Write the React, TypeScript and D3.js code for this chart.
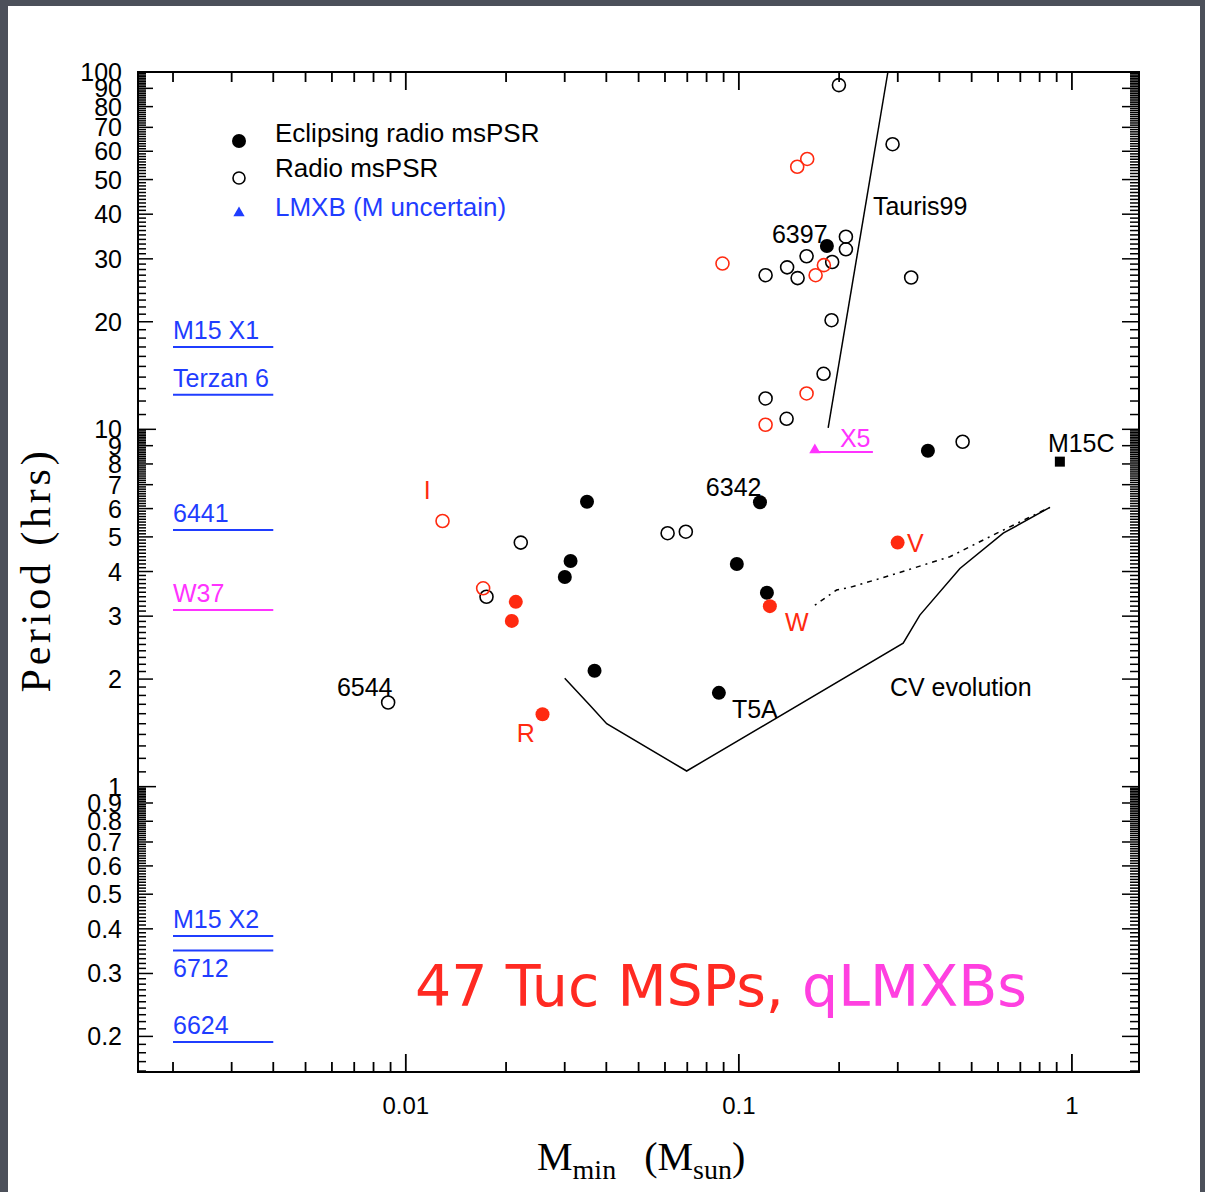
import { useEffect, useRef } from 'react'
import * as d3 from 'd3'

type Pt = [number, number]

// all points are [M_min (Msun), Period (hrs)]
const eclipsingBlack: Pt[] = [
  [0.1838, 32.6], [0.035, 6.27], [0.1157, 6.25], [0.03124, 4.28], [0.03002, 3.86],
  [0.0986, 4.2], [0.1214, 3.49], [0.03687, 2.11], [0.0871, 1.83], [0.3695, 8.71],
]
const eclipsingRed: Pt[] = [
  [0.02139, 3.29], [0.02081, 2.91], [0.02573, 1.595], [0.1239, 3.2], [0.2997, 4.82],
]
const radioBlack: Pt[] = [
  [0.1997, 91.9], [0.2894, 62.8], [0.2096, 34.6], [0.2096, 31.9], [0.1906, 29.4],
  [0.1597, 30.5], [0.1396, 28.4], [0.1501, 26.5], [0.1203, 27.0], [0.3291, 26.6],
  [0.1898, 20.2], [0.1796, 14.3], [0.1203, 12.2], [0.1391, 10.7], [0.4697, 9.23],
  [0.02214, 4.82], [0.0611, 5.12], [0.0693, 5.17], [0.01747, 3.4], [0.00885, 1.72],
]
const radioRed: Pt[] = [
  [0.1497, 54.3], [0.1604, 57.1], [0.0893, 29.1], [0.17, 27.0], [0.18, 28.8],
  [0.1597, 12.6], [0.1203, 10.3], [0.01289, 5.54], [0.01707, 3.59],
]
const m15c: Pt[] = [[0.92, 8.12]]
const x5: Pt[] = [[0.1691, 8.75]]
const x5Line: Pt[] = [[0.1691, 8.64], [0.2526, 8.64]]

const tauris99: Pt[] = [[0.2802, 100], [0.1854, 10.1]]
const cvEvolution: Pt[] = [
  [0.03, 2.01], [0.0357, 1.69], [0.0401, 1.5], [0.0697, 1.106], [0.3114, 2.52],
  [0.3495, 3.02], [0.461, 4.08], [0.622, 5.12], [0.859, 6.05],
]
const cvDotted: Pt[] = [
  [0.1691, 3.22], [0.1965, 3.55], [0.2154, 3.61], [0.2976, 3.95], [0.43, 4.4],
  [0.608, 5.17], [0.859, 6.05],
]

// globular-cluster LMXBs drawn as bars at the left (mass range 0.002-0.004)
const lmxbNames = ['M15 X1', 'Terzan 6', '6441', 'W37', 'M15 X2', '6712', '6624']
const lmxbPeriods = [17.0, 12.5, 5.23, 3.12, 0.382, 0.348, 0.193]
const lmxbBelow = [false, false, false, false, false, true, false]
const lmxbMass: [number, number] = [0.002, 0.004]

// text annotations placed in data coordinates
const annotations: { m: number; p: number; text: string; color: string }[] = [
  { m: 0.1257, p: 35.2, text: '6397', color: '#000' },
  { m: 0.2526, p: 42.2, text: 'Tauris99', color: '#000' },
  { m: 0.2011, p: 9.46, text: 'X5', color: '#ff33ff' },
  { m: 0.847, p: 9.16, text: 'M15C', color: '#000' },
  { m: 0.0796, p: 6.9, text: '6342', color: '#000' },
  { m: 0.01133, p: 6.76, text: 'I', color: '#ff2a10' },
  { m: 0.3196, p: 4.81, text: 'V', color: '#ff2a10' },
  { m: 0.1375, p: 2.89, text: 'W', color: '#ff2a10' },
  { m: 0.2841, p: 1.9, text: 'CV evolution', color: '#000' },
  { m: 0.0953, p: 1.65, text: 'T5A', color: '#000' },
  { m: 0.00621, p: 1.9, text: '6544', color: '#000' },
  { m: 0.02154, p: 1.41, text: 'R', color: '#ff2a10' },
]

const legendItems = ['Eclipsing radio msPSR', 'Radio msPSR', 'LMXB (M uncertain)']
const xTickLabels = [0.01, 0.1, 1]
const yTickLabels = [100, 90, 80, 70, 60, 50, 40, 30, 20, 10, 9, 8, 7, 6, 5, 4, 3, 2, 1,
  0.9, 0.8, 0.7, 0.6, 0.5, 0.4, 0.3, 0.2]

const W = 1205
const H = 1192
const SANS = "'Liberation Sans', Arial, Helvetica, sans-serif"
const SERIF = "'Liberation Serif', 'Times New Roman', serif"
const RED = '#ff2a10'
const BLUE = '#1f3dff'
const MAGENTA = '#ff33ff'

export default function App() {
  const svgRef = useRef<SVGSVGElement>(null)

  useEffect(() => {
    if (!svgRef.current) return
    const svg = d3.select(svgRef.current)
    svg.selectAll('*').remove()

    // slide background + white panel
    svg.append('rect').attr('width', W).attr('height', H).attr('fill', '#4c505a')
    svg.append('rect').attr('x', 8).attr('y', 6).attr('width', 1192).attr('height', H - 6).attr('fill', '#fff')

    const x = d3.scaleLog().domain([0.00157, 1.59]).range([138, 1139])
    const y = d3.scaleLog().domain([0.159, 100]).range([1072, 72])
    const [x0, x1] = x.range()
    const [y0, y1] = y.range()

    const g = svg.append('g')

    // x ticks (top and bottom), minor 2..9 per decade
    const xTicks: { v: number; major: boolean }[] = []
    ;[0.001, 0.01, 0.1, 1].forEach(base => {
      for (let j = 1; j <= 9; j++) {
        const v = j * base
        if (v >= x.domain()[0] && v <= x.domain()[1]) xTicks.push({ v, major: j === 1 })
      }
    })
    xTicks.forEach(t => {
      const px = x(t.v)
      const len = t.major ? 18 : 10
      g.append('line').attr('x1', px).attr('x2', px).attr('y1', y0).attr('y2', y0 - len)
        .attr('stroke', '#000').attr('stroke-width', 1.8)
      g.append('line').attr('x1', px).attr('x2', px).attr('y1', y1).attr('y2', y1 + len)
        .attr('stroke', '#000').attr('stroke-width', 1.8)
    })

    // y ticks: one every 1/10 of the decade base
    const yTicks: { v: number; kind: number }[] = []
    ;[0.1, 1, 10].forEach(base => {
      for (let j = 10; j <= 99; j++) {
        const v = (j * base) / 10
        if (v >= y.domain()[0] && v <= y.domain()[1]) {
          yTicks.push({ v, kind: j === 10 ? 2 : j % 10 === 0 ? 1 : 0 })
        }
      }
    })
    yTicks.push({ v: 100, kind: 2 })
    yTicks.forEach(t => {
      const py = y(t.v)
      const len = t.kind === 2 ? 18 : t.kind === 1 ? 15 : 8
      g.append('line').attr('x1', x0).attr('x2', x0 + len).attr('y1', py).attr('y2', py)
        .attr('stroke', '#000').attr('stroke-width', 1.5)
      g.append('line').attr('x1', x1).attr('x2', x1 - (t.kind === 0 ? 9 : 17)).attr('y1', py).attr('y2', py)
        .attr('stroke', '#000').attr('stroke-width', 1.5)
    })

    // frame
    g.append('rect').attr('x', x0).attr('y', y1).attr('width', x1 - x0).attr('height', y0 - y1)
      .attr('fill', 'none').attr('stroke', '#000').attr('stroke-width', 2)

    // tick labels
    g.selectAll('.xl').data(xTickLabels).join('text')
      .attr('x', d => x(d)).attr('y', 1105).attr('dy', '0.36em')
      .attr('text-anchor', 'middle').attr('font-family', SANS).attr('font-size', 24)
      .text(d => String(d))
    g.selectAll('.yl').data(yTickLabels).join('text')
      .attr('x', 122).attr('y', d => y(d)).attr('dy', '0.36em')
      .attr('text-anchor', 'end').attr('font-family', SANS).attr('font-size', 25)
      .text(d => (d < 1 ? d.toFixed(1) : String(d)))

    // axis titles
    g.append('text')
      .attr('transform', 'translate(50,570) rotate(-90)')
      .attr('text-anchor', 'middle').attr('font-family', SERIF).attr('font-size', 42)
      .attr('letter-spacing', 3.8).text('Period (hrs)')
    const xt = g.append('text').attr('x', 537).attr('y', 1170)
      .attr('font-family', SERIF).attr('font-size', 40)
    xt.append('tspan').text('M')
    xt.append('tspan').attr('font-size', 28).attr('dy', 9).text('min')
    xt.append('tspan').attr('dy', -9).attr('dx', 28).text('(M')
    xt.append('tspan').attr('font-size', 28).attr('dy', 9).text('sun')
    xt.append('tspan').attr('dy', -9).text(')')

    // lines
    const line = d3.line<Pt>().x(d => x(d[0])).y(d => y(d[1]))
    g.append('path').attr('d', line(tauris99)).attr('fill', 'none').attr('stroke', '#000').attr('stroke-width', 1.5)
    g.append('path').attr('d', line(cvEvolution)).attr('fill', 'none').attr('stroke', '#000').attr('stroke-width', 1.5)
    g.append('path').attr('d', line(cvDotted)).attr('fill', 'none').attr('stroke', '#000')
      .attr('stroke-width', 1.5).attr('stroke-dasharray', '2 5 5 5')
    g.append('path').attr('d', line(x5Line)).attr('fill', 'none').attr('stroke', MAGENTA).attr('stroke-width', 2)

    // LMXB reference bars
    lmxbNames.forEach((name, i) => {
      const py = y(lmxbPeriods[i])
      const color = name === 'W37' ? MAGENTA : BLUE
      g.append('line').attr('x1', x(lmxbMass[0])).attr('x2', x(lmxbMass[1]))
        .attr('y1', py).attr('y2', py).attr('stroke', color).attr('stroke-width', 2)
      g.append('text').attr('x', x(lmxbMass[0]))
        .attr('y', lmxbBelow[i] ? py + 27 : py - 8)
        .attr('font-family', SANS).attr('font-size', 25).attr('fill', color)
        .text(name)
    })

    // points
    const filled = (data: Pt[], color: string) =>
      g.append('g').selectAll('circle').data(data).join('circle')
        .attr('cx', d => x(d[0])).attr('cy', d => y(d[1])).attr('r', 7).attr('fill', color)
    const open = (data: Pt[], color: string) =>
      g.append('g').selectAll('circle').data(data).join('circle')
        .attr('cx', d => x(d[0])).attr('cy', d => y(d[1])).attr('r', 6.5)
        .attr('fill', 'none').attr('stroke', color).attr('stroke-width', 1.6)
    open(radioBlack, '#000')
    open(radioRed, RED)
    filled(eclipsingBlack, '#000')
    filled(eclipsingRed, RED)
    g.append('g').selectAll('rect').data(m15c).join('rect')
      .attr('x', d => x(d[0]) - 5).attr('y', d => y(d[1]) - 5).attr('width', 10).attr('height', 10).attr('fill', '#000')
    const tri = d3.symbol().type(d3.symbolTriangle).size(55)
    g.append('g').selectAll('path').data(x5).join('path')
      .attr('transform', d => `translate(${x(d[0])},${y(d[1])})`).attr('d', tri()).attr('fill', MAGENTA)

    // annotations
    g.selectAll('.ann').data(annotations).join('text')
      .attr('x', d => x(d.m)).attr('y', d => y(d.p)).attr('dy', '0.36em')
      .attr('font-family', SANS).attr('font-size', 25).attr('fill', d => d.color)
      .text(d => d.text)

    // legend
    const lg = g.append('g')
    lg.append('circle').attr('cx', 239).attr('cy', 141).attr('r', 7).attr('fill', '#000')
    lg.append('circle').attr('cx', 239).attr('cy', 178).attr('r', 6).attr('fill', 'none')
      .attr('stroke', '#000').attr('stroke-width', 1.6)
    lg.append('path').attr('transform', 'translate(239,213)').attr('d', tri()).attr('fill', BLUE)
    legendItems.forEach((t, i) => {
      lg.append('text').attr('x', 275).attr('y', [133, 168, 207][i]).attr('dy', '0.36em')
        .attr('font-family', SANS).attr('font-size', 26).attr('fill', i === 2 ? BLUE : '#000')
        .text(t)
    })

    // big slide caption
    const cap = g.append('text').attr('x', 415).attr('y', 1006)
      .attr('font-family', "'DejaVu Sans', Verdana, sans-serif").attr('font-size', 57)
    cap.append('tspan').attr('fill', '#ff2a22').text('47 Tuc MSPs, ')
    cap.append('tspan').attr('fill', '#ff40e0').text('qLMXBs')
  }, [])

  return (
    <div style={{ position: 'absolute', left: 0, top: 0 }}>
      <svg ref={svgRef} width={W} height={H} style={{ display: 'block' }} />
    </div>
  )
}
